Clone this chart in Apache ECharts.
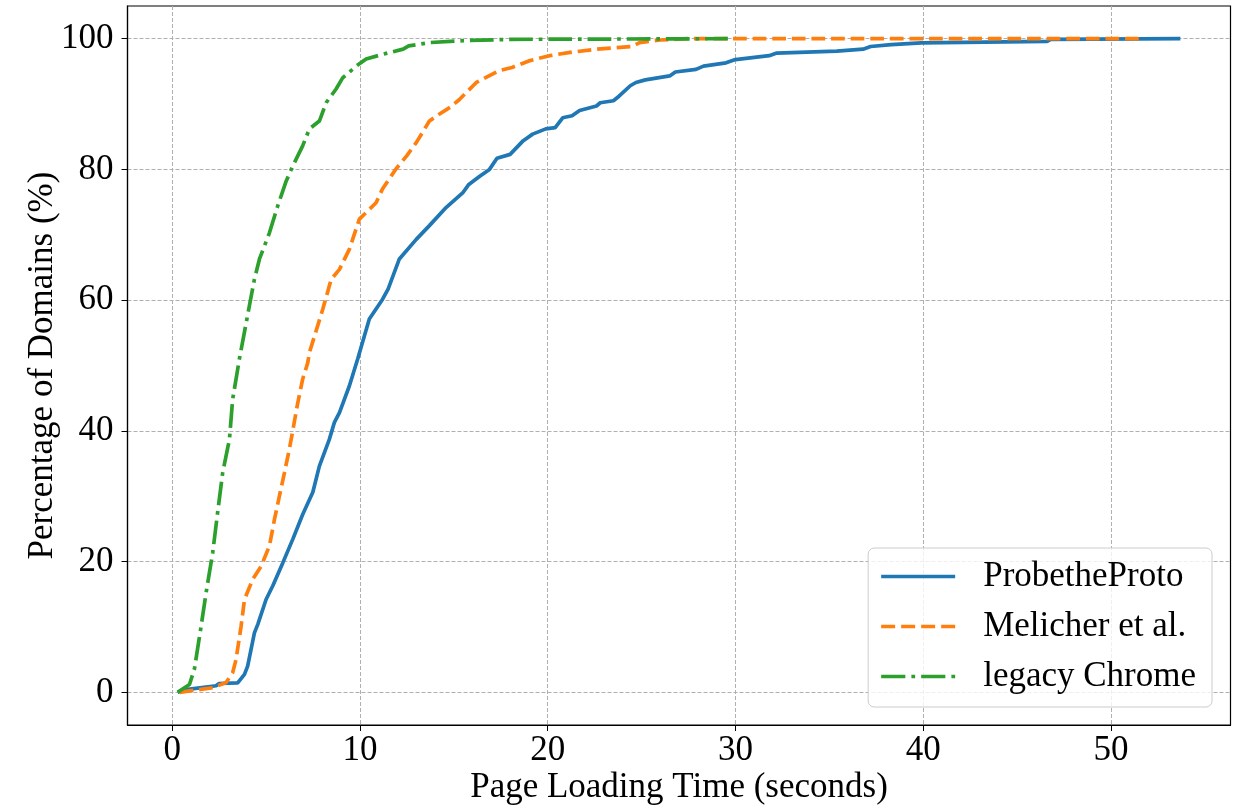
<!DOCTYPE html>
<html>
<head>
<meta charset="utf-8">
<script src="https://cdn.jsdelivr.net/npm/echarts@6/dist/echarts.min.js"></script>
<style>
  html, body { margin: 0; padding: 0; background: #fff; }
  #chart { width: 1235px; height: 810px; }
</style>
</head>
<body>
<div id="chart"></div>
<script>
// CDF points: page loading time (s) and share of domains (%)
var probeX = [0.29, 0.83, 2.34, 2.5, 3.49, 3.85, 4.02, 4.38, 4.56, 5.0, 5.36, 5.89, 6.42, 6.95, 7.49, 7.84, 8.37, 8.64, 8.91, 9.44, 9.88, 10.5, 11.2, 11.5, 12.1, 13.0, 13.7, 14.6, 15.5, 15.8, 16.4, 16.9, 17.3, 18.0, 18.7, 19.2, 19.9, 20.4, 20.8, 21.3, 21.7, 22.6, 22.8, 23.5, 23.8, 24.4, 24.7, 25.2, 26.5, 26.8, 27.9, 28.3, 29.5, 30.0, 31.8, 32.2, 35.4, 36.8, 37.2, 38.3, 39.9, 46.6, 46.8, 53.7];
var probeY = [0, 0.46, 1.0, 1.35, 1.45, 2.75, 4.0, 9.1, 10.4, 14.2, 16.3, 19.8, 23.4, 27.2, 30.6, 34.6, 38.7, 41.3, 42.8, 46.9, 51.0, 57.1, 60.1, 61.7, 66.3, 69.3, 71.4, 74.2, 76.5, 77.7, 79.0, 80.0, 81.7, 82.3, 84.4, 85.4, 86.2, 86.4, 87.9, 88.2, 89.0, 89.7, 90.2, 90.5, 91.2, 92.8, 93.3, 93.7, 94.3, 94.9, 95.3, 95.8, 96.3, 96.8, 97.4, 97.8, 98.1, 98.4, 98.8, 99.1, 99.35, 99.6, 99.9, 100];

var melicherX = [0.4, 2.16, 2.87, 3.22, 3.4, 3.67, 3.85, 4.29, 4.74, 5.18, 5.45, 5.71, 5.98, 6.24, 6.42, 6.69, 6.95, 7.22, 7.31, 8.02, 8.47, 8.91, 9.44, 9.97, 10.86, 11.2, 11.9, 12.5, 13.0, 13.7, 14.2, 14.8, 15.3, 16.2, 17.4, 18.1, 19.0, 20.1, 21.2, 22.6, 24.5, 24.9, 26.0, 27.4, 51.6];
var melicherY = [0, 0.7, 1.5, 3.0, 5.0, 10.1, 14.2, 17.3, 19.3, 22.4, 26.5, 30.0, 33.6, 37.2, 40.0, 44.3, 47.9, 50.4, 52.0, 58.6, 63.2, 64.7, 67.8, 72.4, 74.9, 77.0, 80.0, 82.1, 84.1, 87.4, 88.4, 89.5, 90.7, 93.3, 95.1, 95.6, 96.6, 97.4, 97.9, 98.4, 98.8, 99.4, 99.8, 100, 100];

var chromeX = [0.29, 0.92, 1.18, 1.54, 1.81, 2.16, 2.42, 2.69, 3.05, 3.22, 3.58, 4.11, 4.38, 4.65, 5.18, 5.62, 6.07, 6.42, 6.95, 7.31, 7.84, 8.2, 8.73, 9.08, 9.8, 10.33, 11.2, 12.3, 12.6, 13.7, 15.5, 18.0, 29.6];
var chromeY = [0, 1.2, 3.5, 10.1, 15.3, 21.4, 27.5, 33.6, 38.7, 44.8, 51.0, 59.1, 63.2, 66.3, 70.3, 74.4, 78.2, 80.5, 83.6, 86.2, 87.4, 90.2, 92.3, 94.0, 95.8, 96.9, 97.6, 98.4, 98.9, 99.4, 99.7, 99.9, 100];

var seriesNames = ['ProbetheProto', 'Melicher et al.', 'legacy Chrome'];
var seriesColors = ['#1f77b4', '#ff7f0e', '#2ca02c'];

function pairs (xs, ys) {
  return xs.map(function (x, i) { return [x, ys[i]] })
}

var FONT = 'Liberation Serif'
var LW = 3.7
var DASHED = [13.7, 5.9]
var DASHDOT = [23.7, 5.9, 3.7, 5.9]

// legend samples drawn as filled bars so they keep the plot's line weight
var legendIcons = [
  'path://M0,0h74v3.7h-74z',
  'path://M0,0h13.7v3.7h-13.7zM19.6,0h13.7v3.7h-13.7zM39.2,0h13.7v3.7h-13.7zM58.8,0h13.7v3.7h-13.7z',
  'path://M0,0h23.7v3.7h-23.7zM29.6,0h3.7v3.7h-3.7zM39.2,0h23.7v3.7h-23.7zM68.8,0h3.7v3.7h-3.7z'
]

var chart = echarts.init(document.getElementById('chart'), null, { renderer: 'canvas' })

var gridLine = { show: true, showMinLine: false, showMaxLine: false, lineStyle: { color: '#b0b0b0', width: 1, type: [4, 2] } }

var option = {
  animation: false,
  backgroundColor: '#fff',
  textStyle: { fontFamily: FONT, color: '#000' },
  grid: {
    left: 127.5, top: 6, width: 1103, height: 719,
    outerBoundsMode: 'none',
    show: true, borderColor: '#000', borderWidth: 1.2, backgroundColor: 'transparent'
  },
  xAxis: {
    type: 'value',
    min: -2.38,
    max: 56.37,
    splitNumber: 6,
    name: 'Page Loading Time (seconds)',
    nameLocation: 'middle',
    nameGap: 45,
    nameMoveOverlap: false,
    nameTextStyle: { fontFamily: FONT, fontSize: 35, color: '#000' },
    axisLine: { show: true, onZero: false, lineStyle: { color: '#000', width: 1.2 } },
    axisTick: { show: true, length: 6, lineStyle: { color: '#000', width: 1 } },
    axisLabel: { fontFamily: FONT, fontSize: 35, color: '#000', margin: 8, showMinLabel: false, showMaxLabel: false },
    splitLine: gridLine
  },
  yAxis: {
    type: 'value',
    min: -5,
    max: 105,
    splitNumber: 5,
    name: 'Percentage of Domains (%)',
    nameLocation: 'middle',
    nameGap: 67,
    nameMoveOverlap: false,
    nameTextStyle: { fontFamily: FONT, fontSize: 35, color: '#000' },
    axisLine: { show: true, onZero: false, lineStyle: { color: '#000', width: 1.2 } },
    axisTick: { show: true, length: 6, lineStyle: { color: '#000', width: 1 } },
    axisLabel: { fontFamily: FONT, fontSize: 35, color: '#000', margin: 14, showMinLabel: false, showMaxLabel: false },
    splitLine: gridLine
  },
  legend: {
    orient: 'vertical',
    right: 23,
    bottom: 103,
    padding: [11, 16, 13, 13],
    itemWidth: 74,
    itemHeight: 3.7,
    itemGap: 15,
    symbolKeepAspect: false,
    backgroundColor: 'rgba(255,255,255,0.8)',
    borderColor: '#cccccc',
    borderWidth: 1,
    borderRadius: 6,
    textStyle: { fontFamily: FONT, fontSize: 35, lineHeight: 35, color: '#000', padding: [0, 0, 0, 23] },
    data: seriesNames.map(function (n, i) { return { name: n, icon: legendIcons[i] } })
  },
  series: [
    {
      name: seriesNames[0],
      type: 'line',
      data: pairs(probeX, probeY),
      symbol: 'none',
      color: seriesColors[0],
      lineStyle: { width: LW, color: seriesColors[0] }
    },
    {
      name: seriesNames[1],
      type: 'line',
      data: pairs(melicherX, melicherY),
      symbol: 'none',
      color: seriesColors[1],
      lineStyle: { width: LW, color: seriesColors[1], type: DASHED }
    },
    {
      name: seriesNames[2],
      type: 'line',
      data: pairs(chromeX, chromeY),
      symbol: 'none',
      color: seriesColors[2],
      lineStyle: { width: LW, color: seriesColors[2], type: DASHDOT }
    }
  ]
}

chart.setOption(option)
</script>
</body>
</html>
